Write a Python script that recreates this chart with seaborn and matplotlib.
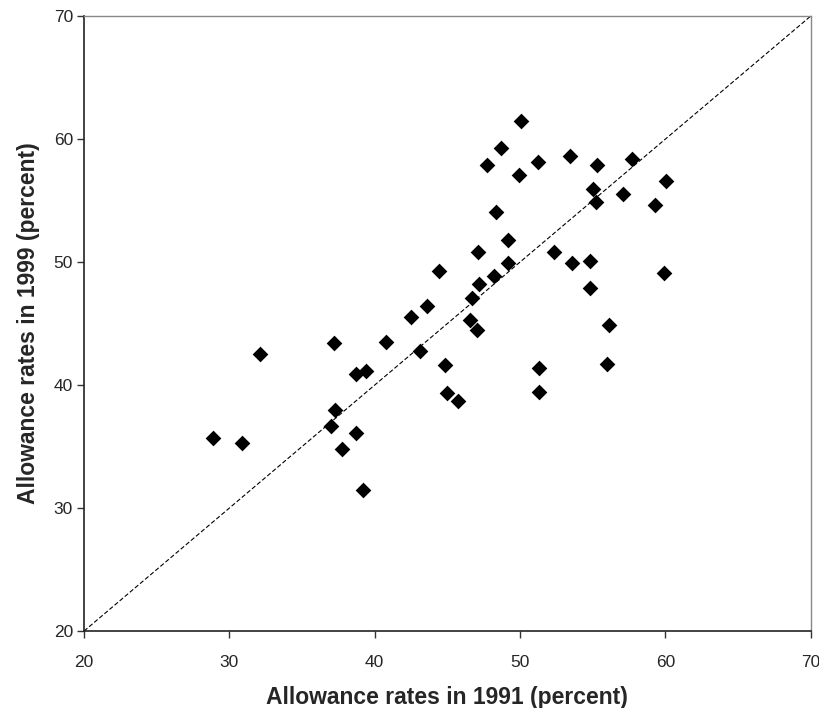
import matplotlib
matplotlib.use("Agg")
import matplotlib.pyplot as plt
import seaborn as sns
import pandas as pd

# allowance rates by state
rate_1991 = [28.85, 30.9, 32.1, 37.2, 38.7, 39.4, 37.3, 37.0, 38.7, 37.75,
             39.2, 40.8, 42.5, 43.6, 43.1, 44.85, 45.0, 45.7, 51.3, 51.3,
             56.0, 56.1, 46.55, 47.05, 46.7, 47.2, 48.2, 47.1, 44.4, 49.2,
             49.2, 48.35, 53.55, 54.8, 54.8, 52.35, 59.9, 59.25, 55.25, 55.0,
             57.1, 60.05, 57.7, 55.3, 53.45, 51.2, 49.95, 47.7, 48.7, 50.05]
rate_1999 = [35.7, 35.3, 42.5, 43.4, 40.9, 41.1, 38.0, 36.7, 36.1, 34.8,
             31.5, 43.5, 45.5, 46.4, 42.8, 41.6, 39.35, 38.7, 41.4, 39.4,
             41.7, 44.9, 45.3, 44.5, 47.05, 48.2, 48.9, 50.8, 49.3, 49.9,
             51.8, 54.1, 49.9, 50.1, 47.9, 50.85, 49.1, 54.6, 54.9, 55.95,
             55.5, 56.55, 58.4, 57.9, 58.6, 58.1, 57.1, 57.9, 59.3, 61.5]
ticks = [20, 30, 40, 50, 60, 70]

df = pd.DataFrame({"y1991": rate_1991, "y1999": rate_1999})

sns.set_style("white")
plt.rcParams["font.family"] = ["Liberation Sans", "DejaVu Sans"]

fig = plt.figure(figsize=(8.19, 7.08), dpi=100)
ax = fig.add_axes([0.1026, 0.1087, 0.8874, 0.8687])

# 45 degree reference line
ax.plot([20, 70], [20, 70], color="black", linestyle=(0, (4, 2)), linewidth=0.8, zorder=1)

sns.scatterplot(data=df, x="y1991", y="y1999", marker="D", s=64,
                color="black", edgecolor="black", linewidth=0, ax=ax, zorder=2)

ax.set_xlim(20, 70)
ax.set_ylim(20, 70)
ax.set_xticks(ticks)
ax.set_yticks(ticks)
ax.tick_params(axis="both", direction="out", length=5, width=1,
               labelsize=12.5, color="#333333", bottom=True, left=True)
ax.tick_params(axis="x", pad=12)
ax.tick_params(axis="y", pad=3)

for side in ["left", "bottom"]:
    ax.spines[side].set_color("#222222")
    ax.spines[side].set_linewidth(1.2)
for side in ["top", "right"]:
    ax.spines[side].set_color("#888888")
    ax.spines[side].set_linewidth(1.0)

ax.set_xlabel("Allowance rates in 1991 (percent)", fontsize=16.5, fontweight="bold", labelpad=12)
ax.set_ylabel("Allowance rates in 1999 (percent)", fontsize=16.5, fontweight="bold", labelpad=10)

fig.savefig("out.png", dpi=100, facecolor="white")
